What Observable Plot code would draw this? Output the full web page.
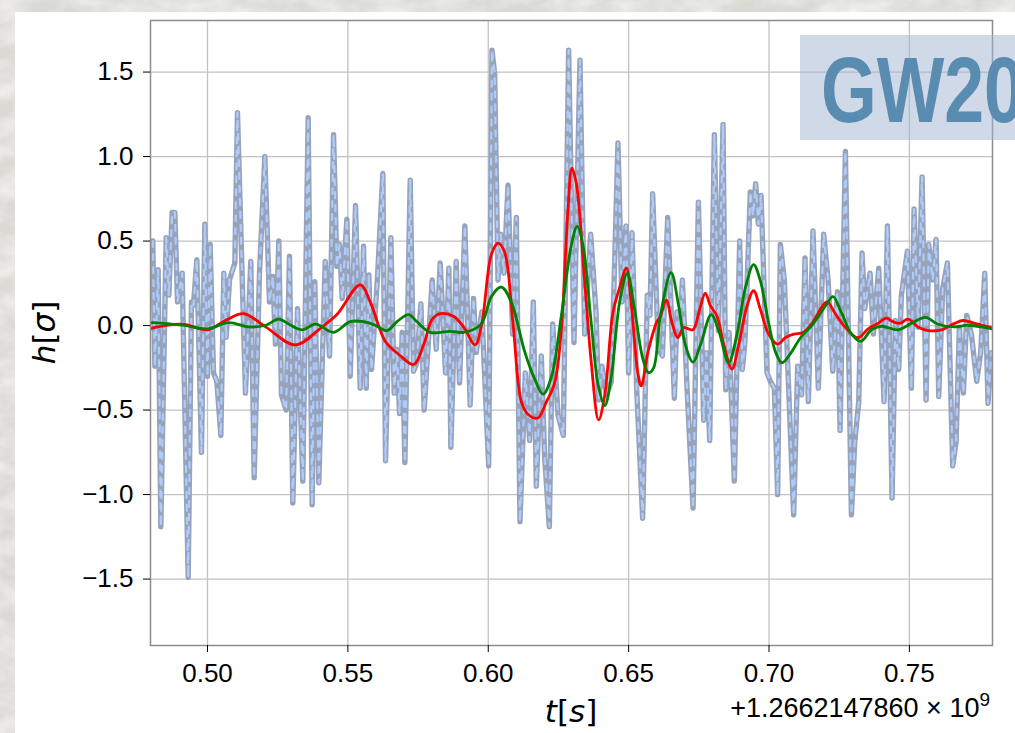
<!DOCTYPE html>
<html>
<head>
<meta charset="utf-8">
<script src="https://cdn.jsdelivr.net/npm/d3@7"></script>
<script src="https://cdn.jsdelivr.net/npm/@observablehq/plot@0.6"></script>
<style>
  html, body { margin: 0; padding: 0; width: 1015px; height: 733px; overflow: hidden; background: #dcdad5; }
  #bg { position: absolute; left: 0; top: 0; }
  #panel { position: absolute; left: 15px; top: 12px; width: 1000px; height: 721px; background: #fff; }
</style>
</head>
<body>
<svg id="bg" width="1015" height="733">
  <defs>
    <filter id="marble" x="0" y="0" width="100%" height="100%">
      <feTurbulence type="fractalNoise" baseFrequency="0.03 0.05" numOctaves="5" seed="11"/>
      <feColorMatrix type="matrix" values="0 0 0 0 0.96  0 0 0 0 0.955  0 0 0 0 0.94  1.2 0 0 0 -0.35"/>
    </filter>
  </defs>
  <rect width="1015" height="733" fill="#dbd9d4"/>
  <rect width="1015" height="733" filter="url(#marble)"/>
</svg>
<div id="panel"></div>
<script>
// Time axis values are seconds after GPS 1.2662147860e9
const xTicks = [0.50, 0.55, 0.60, 0.65, 0.70, 0.75];
const yTicks = [-1.5, -1.0, -0.5, 0.0, 0.5, 1.0, 1.5];

// Whitened strain data
const dataT = [
  0.4805,0.48125,0.48243,0.48338,0.48528,0.48623,0.48742,0.48837,0.48932,0.49098,0.49312,0.4943,0.49501,0.4962,0.49786,0.49905,0.5,0.50095,0.50214,0.50332,0.50475,0.50582,0.50665,0.50783,0.50973,0.51068,0.51353,0.51543,0.51662,0.51852,0.52042,0.52208,0.52327,0.52422,0.5254,0.52635,0.52801,0.5292,0.53039,0.53205,0.53395,0.53585,0.53727,0.53822,0.53964,
  0.54193,0.54347,0.5449,0.54608,0.54703,0.54798,0.54964,0.55083,0.55273,0.55439,0.55558,0.55653,0.55748,0.55843,0.56056,0.56246,0.56341,0.56531,0.5665,0.56745,0.5684,0.56935,0.5703,0.5722,0.57338,0.57457,0.576,0.57718,0.58003,0.58146,0.58288,0.58478,0.58597,0.58668,0.58858,0.58977,0.59166,0.59356,0.59475,0.5957,0.59772,
  0.60015,0.60133,0.60228,0.60347,0.60442,0.60561,0.60703,0.60869,0.61,0.6113,0.6132,0.61475,0.61605,0.61712,0.6189,0.62009,0.62175,0.62294,0.62484,0.62673,0.62863,0.63053,0.63267,0.63433,0.63647,0.63837,0.63932,0.6405,0.64217,0.64383,0.6462,0.64763,0.64905,0.65,0.65119,0.65285,0.65499,0.65665,0.6576,0.65855,
  0.66059,0.66202,0.66392,0.66629,0.66724,0.66819,0.66914,0.6708,0.67294,0.67484,0.67674,0.67768,0.67887,0.68053,0.68196,0.68362,0.68457,0.68576,0.68765,0.68955,0.6905,0.69145,0.69335,0.6943,0.69525,0.6962,0.69715,0.69929,0.70047,0.7019,0.70309,0.70404,0.70546,0.70878,0.71021,0.71163,0.71282,0.71401,0.71567,0.71757,0.71947,
  0.72104,0.7227,0.72436,0.72531,0.72721,0.72816,0.72935,0.73053,0.73196,0.73314,0.73409,0.73599,0.73718,0.73908,0.74098,0.74217,0.74383,0.74501,0.7462,0.74715,0.74929,0.75071,0.75166,0.75309,0.75451,0.75594,0.75688,0.75831,0.7595,0.76045,0.76187,0.76353,0.76543,0.76662,0.76781,0.76923,0.77042,0.77208,0.77398,0.7754,0.77683,0.77801,0.7792
];
const dataH = [
  0.50,-0.24,0.33,-1.19,0.52,0.18,0.67,0.67,0.14,0.31,-1.49,0.14,0.12,0.39,-0.75,0.60,-0.30,0.48,-0.28,-0.33,-0.65,0.31,-0.07,0.27,0.37,1.26,-0.40,0.38,-0.90,0.31,1.00,0.14,0.29,-0.11,0.50,-0.41,-0.50,0.41,-1.05,0.10,-0.92,1.23,-1.06,0.26,-0.93,
  0.38,-0.18,1.13,0.35,0.48,0.16,0.63,-0.30,0.71,-0.37,0.47,-0.37,0.30,-0.26,0.29,0.90,-0.80,0.52,-0.40,-0.14,-0.52,-0.04,-0.81,0.86,-0.27,-0.22,0.13,-0.50,0.27,-0.14,0.37,-0.28,0.34,-0.72,0.38,-0.34,0.59,-0.47,0.16,-0.16,0.08,
  -0.83,1.63,1.49,0.27,0.54,0.31,0.83,-0.05,0.64,-1.16,-0.28,-0.68,0.14,-0.95,-0.18,-0.78,-1.19,0.01,-0.53,-0.65,1.63,-0.10,1.57,-0.05,0.54,0.08,-0.44,-0.24,-0.41,-0.33,1.08,0.14,0.59,-0.28,0.55,-0.37,-1.14,0.18,0.06,0.78,
  -0.14,-0.18,0.64,-0.43,0.08,-0.05,0.27,-0.37,-1.08,0.73,-0.56,-0.16,-0.68,1.13,-0.03,1.19,-0.38,-0.04,-0.92,0.50,-0.26,-0.09,0.79,0.65,0.84,0.60,0.77,-0.28,-0.33,-0.37,-1.00,0.48,0.27,-1.12,-0.24,-0.41,0.40,-0.45,0.56,-0.37,0.54,
  0.27,-0.27,0.20,-0.62,1.03,0.06,-1.12,-0.69,-0.45,0.43,0.10,0.31,-0.05,0.34,-0.45,0.59,-1.02,0.03,-0.26,0.18,0.44,-0.37,0.69,-0.01,0.88,-0.44,0.48,0.27,0.51,-0.42,0.22,0.37,-0.83,-0.69,-0.01,-0.40,0.06,-0.05,-0.33,-0.16,0.31,-0.46,-0.16
];

// Reconstructed waveform (red)
const redT = [0.4797,0.4803,0.4910,0.5000,0.5064,0.5129,0.5207,0.5313,0.5404,0.5461,0.5544,0.5580,0.5633,0.5686,0.5734,0.5770,0.5799,0.5829,0.5876,0.5912,0.5953,0.5977,0.6011,0.6035,0.6058,0.6088,0.6118,0.6142,0.6177,0.6207,0.6237,0.6260,0.6284,0.6298,0.6314,0.6343,0.6367,0.6393,0.6415,0.6444,0.6468,0.6492,0.6510,0.6533,0.6545,0.6569,0.6600,0.6613,0.6634,0.6655,0.6675,0.6696,0.6729,0.6750,0.6773,0.6791,0.6815,0.6839,0.6868,0.6892,0.6922,0.6945,0.6969,0.6999,0.7031,0.7058,0.7088,0.7123,0.7153,0.7206,0.7234,0.7270,0.7317,0.7353,0.7388,0.7418,0.7442,0.7466,0.7495,0.7531,0.7567,0.7614,0.7661,0.7691,0.7733,0.7792,0.7797];
const redH = [-0.02,-0.015,0.008,-0.025,0.03,0.07,-0.008,-0.114,-0.013,0.065,0.241,0.139,-0.093,-0.177,-0.23,-0.114,0.034,0.07,0.055,-0.008,-0.114,0.01,0.42,0.488,0.435,0.013,-0.452,-0.526,-0.547,-0.452,-0.336,-0.03,0.689,0.932,0.837,0.266,-0.22,-0.558,-0.41,0.076,0.224,0.34,0.118,-0.283,-0.357,-0.156,0.02,0.055,0.15,0.013,-0.072,-0.013,-0.025,0.076,0.192,0.118,0.055,-0.114,-0.258,-0.114,0.118,0.207,0.097,-0.051,-0.11,-0.072,-0.051,-0.04,0.013,0.14,0.076,-0.008,-0.072,-0.019,0.013,0.044,0.023,0.013,0.038,-0.008,-0.03,-0.025,0.013,0.03,0.013,-0.013,-0.015];

// Template waveform (green)
const greenT = [0.4797,0.4803,0.4910,0.5000,0.5076,0.5147,0.5207,0.5254,0.5290,0.5337,0.5385,0.5449,0.5508,0.5556,0.5597,0.5639,0.5675,0.5716,0.5746,0.5793,0.5864,0.5912,0.5971,0.5987,0.6011,0.6047,0.6082,0.6130,0.6165,0.6195,0.6225,0.6260,0.6296,0.6317,0.6337,0.6367,0.6391,0.6415,0.6438,0.6468,0.6495,0.6521,0.6551,0.6571,0.6589,0.6613,0.6651,0.6678,0.6702,0.6729,0.6756,0.6794,0.6821,0.6856,0.6886,0.6916,0.6945,0.6969,0.6999,0.7023,0.7046,0.7076,0.7112,0.7153,0.7202,0.7228,0.7258,0.7294,0.7327,0.7365,0.7400,0.7460,0.7507,0.7557,0.7602,0.7661,0.7709,0.7792,0.7797];
const greenH = [0.015,0.017,0.002,-0.019,0.017,-0.008,0.002,0.038,0.008,-0.025,0.008,-0.04,0.023,0.023,0.002,-0.03,0.023,0.065,0.023,-0.04,-0.034,-0.04,0.002,0.05,0.171,0.228,0.139,-0.156,-0.315,-0.406,-0.304,0.055,0.477,0.587,0.477,0.013,-0.347,-0.473,-0.304,0.139,0.308,0.097,-0.199,-0.279,-0.25,0.055,0.313,0.118,-0.114,-0.216,-0.114,0.065,-0.03,-0.22,-0.051,0.224,0.361,0.266,0.013,-0.156,-0.22,-0.167,-0.072,0.002,0.118,0.171,0.076,-0.051,-0.093,-0.025,-0.004,-0.025,0.013,0.049,0.008,-0.008,0.002,-0.019,-0.02];

const offsetText = "+1.2662147860 \u00d7 10";
const offsetExp = "9";
const eventName = "GW200220";

const zip = (ts, hs) => ts.map((t, i) => ({t, h: hs[i]}));
const data = zip(dataT, dataH);
const red = zip(redT, redH);
const green = zip(greenT, greenH);

const chart = Plot.plot({
  width: 1000,
  height: 721,
  marginLeft: 135,
  marginRight: 23,
  marginTop: 8,
  marginBottom: 88,
  style: {
    background: "white",
    fontFamily: "'Liberation Sans', Arial, Helvetica, sans-serif",
    fontSize: "26px",
    color: "#000",
    overflow: "hidden"
  },
  x: {domain: [0.4797, 0.7796]},
  y: {domain: [-1.893, 1.805]},
  marks: [
    Plot.gridX(xTicks, {stroke: "#c2c2c2", strokeOpacity: 1, strokeWidth: 1.3}),
    Plot.gridY(yTicks, {stroke: "#c2c2c2", strokeOpacity: 1, strokeWidth: 1.3}),
    Plot.line(data, {x: "t", y: "h", stroke: "#97a3bb", strokeWidth: 5.4, strokeLinejoin: "round", strokeLinecap: "round", clip: true}),
    Plot.line(data, {x: "t", y: "h", stroke: "#aecbfa", strokeWidth: 2.2, strokeDasharray: "6 7", strokeLinejoin: "round", clip: true}),
    Plot.line(red, {x: "t", y: "h", stroke: "#ff0000", strokeWidth: 2.8, curve: "catmull-rom", clip: true}),
    Plot.line(green, {x: "t", y: "h", stroke: "#008000", strokeWidth: 2.8, curve: "catmull-rom", clip: true}),
    Plot.frame({stroke: "#8c8c8c", strokeWidth: 1.5}),
    Plot.axisX(xTicks, {tickFormat: d3.format(".2f"), tickSize: 7, tickPadding: 11, label: null}),
    Plot.axisY(yTicks, {tickFormat: d3.format(".1f"), tickSize: 7, tickPadding: 10, label: null})
  ]
});

document.getElementById("panel").appendChild(chart);

const svg = d3.select(chart);
const mathFont = "'DejaVu Sans', sans-serif";

// Event name badge in the upper-right corner
svg.append("rect")
  .attr("x", 785).attr("y", 23).attr("width", 260).attr("height", 105)
  .attr("fill", "#9fb4d0").attr("fill-opacity", 0.5);
svg.append("text")
  .attr("transform", "translate(806,110) scale(0.77,1)")
  .attr("text-anchor", "start")
  .attr("font-family", "'Liberation Sans', Arial, sans-serif")
  .attr("font-weight", "bold")
  .attr("font-size", 93)
  .attr("fill", "#5a8bb0")
  .text(eventName);

// x-axis label t[s]
const xl = svg.append("text")
  .attr("x", 556).attr("y", 710)
  .attr("text-anchor", "middle")
  .attr("font-family", mathFont).attr("font-size", 31).attr("fill", "#000");
xl.append("tspan").attr("font-style", "italic").text("t");
xl.append("tspan").text("[");
xl.append("tspan").attr("font-style", "italic").text("s");
xl.append("tspan").text("]");

// y-axis label h[σ]
const yl = svg.append("text")
  .attr("transform", "translate(40,320.5) rotate(-90)")
  .attr("text-anchor", "middle")
  .attr("font-family", mathFont).attr("font-size", 31).attr("fill", "#000");
yl.append("tspan").attr("font-style", "italic").text("h");
yl.append("tspan").text("[");
yl.append("tspan").attr("font-style", "italic").text("σ");
yl.append("tspan").text("]");

// Offset of the time axis
const off = svg.append("text")
  .attr("x", 975).attr("y", 705)
  .attr("text-anchor", "end")
  .attr("font-family", "'Liberation Sans', Arial, sans-serif")
  .attr("font-size", 27).attr("fill", "#000");
off.append("tspan").text(offsetText);
off.append("tspan").attr("dy", -11).attr("font-size", 19).text(offsetExp);
</script>
</body>
</html>
